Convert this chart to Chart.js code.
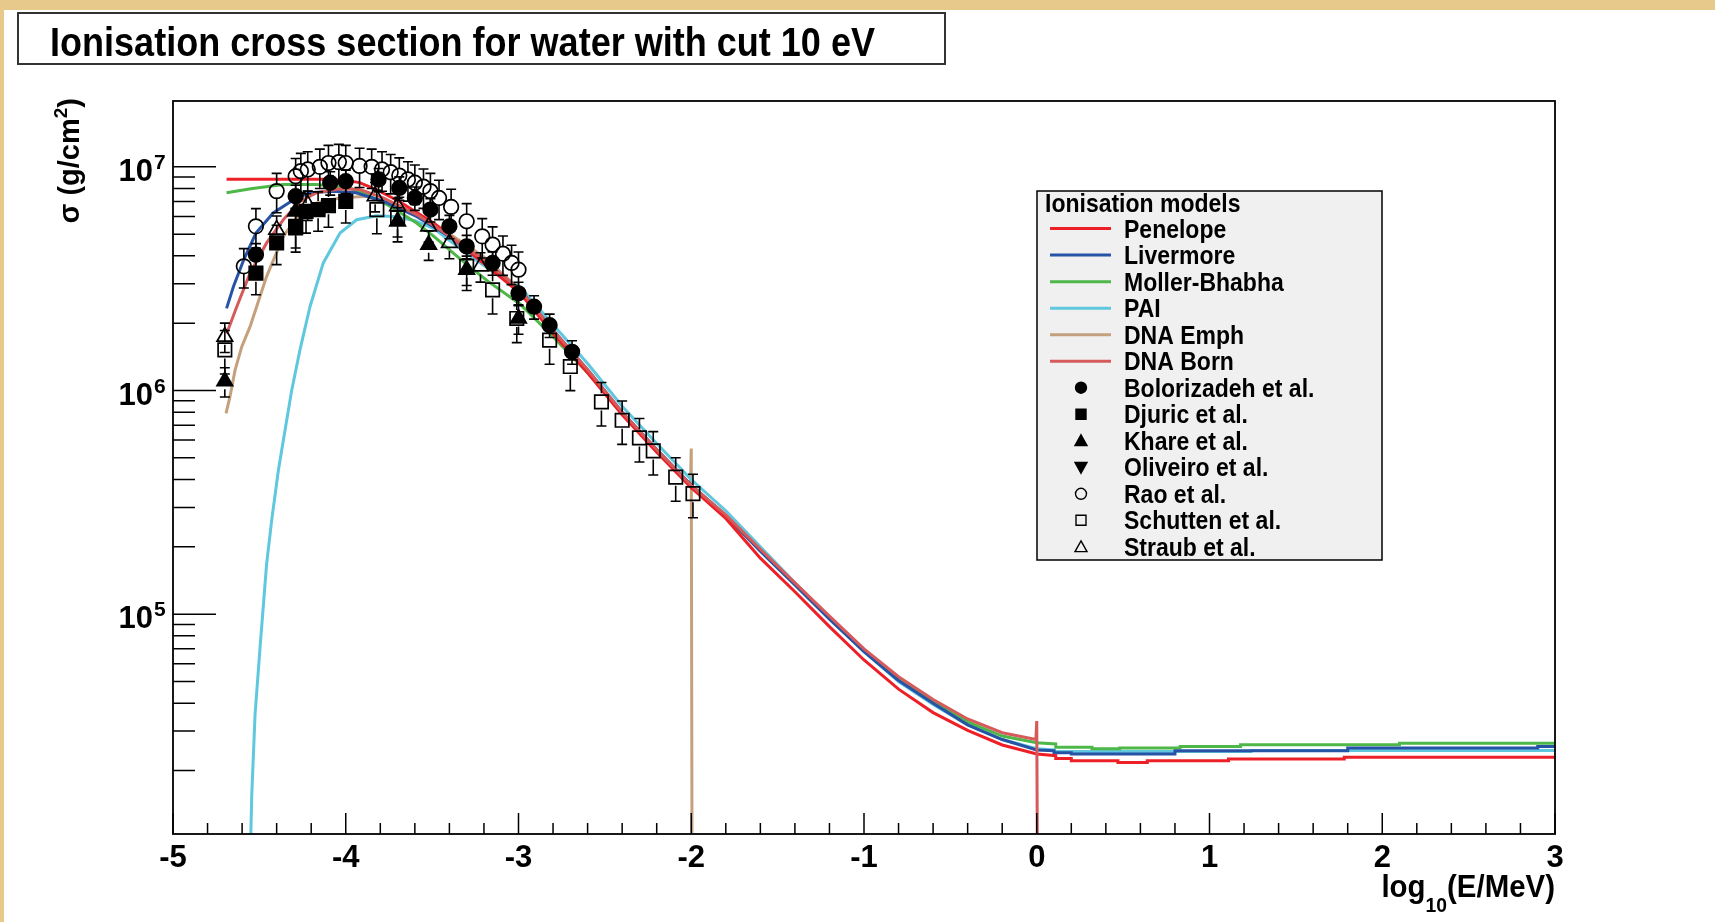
<!DOCTYPE html>
<html>
<head>
<meta charset="utf-8">
<title>Ionisation cross section for water</title>
<script src="https://cdn.jsdelivr.net/npm/chart.js@4.4.1/dist/chart.umd.min.js"></script>
<style>
  html, body { margin: 0; padding: 0; background: #fff; overflow: hidden; }
  canvas { display: block; }
</style>
</head>
<body>
<canvas id="xsecChart" width="1715" height="922"></canvas>
<script>
// x = log10(E/MeV), y = sigma (g/cm2)
const penX = [-4.69, -4.40, -4.10, -4.00, -3.92, -3.82, -3.69, -3.49, -3.30, -3.11, -2.99, -2.80, -2.60, -2.40, -2.20, -2.00, -1.80, -1.60, -1.40, -1.20, -1.00, -0.80, -0.60, -0.40, -0.20, 0.00, 0.11, 0.11, 0.20, 0.20, 0.47, 0.47, 0.64, 0.64, 1.11, 1.11, 1.78, 1.78, 3.00];
const penY = [8.8e6, 8.8e6, 8.8e6, 8.7e6, 8.5e6, 7.9e6, 7.0e6, 5.6e6, 4.27e6, 3.24e6, 2.72e6, 1.80e6, 1.20e6, 7.8e5, 5.3e5, 3.68e5, 2.68e5, 1.78e5, 1.26e5, 8.8e4, 6.24e4, 4.62e4, 3.63e4, 3.02e4, 2.60e4, 2.37e4, 2.33e4, 2.26e4, 2.26e4, 2.21e4, 2.21e4, 2.17e4, 2.17e4, 2.21e4, 2.21e4, 2.25e4, 2.25e4, 2.29e4, 2.29e4];

const livX = [-4.69, -4.65, -4.59, -4.52, -4.42, -4.30, -4.21, -4.07, -3.94, -3.78, -3.59, -3.40, -3.20, -2.99, -2.80, -2.60, -2.40, -2.20, -2.00, -1.80, -1.60, -1.40, -1.20, -1.00, -0.80, -0.60, -0.40, -0.20, 0.00, 0.10, 0.10, 0.20, 0.20, 0.80, 0.80, 1.80, 1.80, 2.90, 2.90, 3.00];
const livY = [2.33e6, 2.92e6, 3.85e6, 5.06e6, 6.22e6, 7.14e6, 7.66e6, 7.78e6, 7.66e6, 7.0e6, 6.0e6, 4.89e6, 3.72e6, 2.82e6, 1.86e6, 1.24e6, 8.0e5, 5.45e5, 3.78e5, 2.76e5, 1.91e5, 1.35e5, 9.5e4, 6.8e4, 5.05e4, 4.0e4, 3.2e4, 2.75e4, 2.47e4, 2.45e4, 2.40e4, 2.40e4, 2.37e4, 2.37e4, 2.45e4, 2.45e4, 2.52e4, 2.52e4, 2.56e4, 2.56e4];

const molX = [-4.69, -4.55, -4.36, -4.17, -3.98, -3.88, -3.76, -3.59, -3.49, -3.34, -3.18, -2.99, -2.80, -2.60, -2.40, -2.20, -2.00, -1.80, -1.60, -1.40, -1.20, -1.00, -0.80, -0.60, -0.40, -0.20, 0.00, 0.11, 0.11, 0.32, 0.32, 0.48, 0.48, 0.83, 0.83, 1.18, 1.18, 2.10, 2.10, 3.00];
const molY = [7.66e6, 7.98e6, 8.34e6, 8.34e6, 8.06e6, 7.52e6, 6.78e6, 5.61e6, 4.89e6, 3.89e6, 3.09e6, 2.43e6, 1.74e6, 1.20e6, 7.9e5, 5.43e5, 3.76e5, 2.75e5, 1.92e5, 1.36e5, 9.6e4, 6.9e4, 5.15e4, 4.1e4, 3.3e4, 2.85e4, 2.66e4, 2.63e4, 2.54e4, 2.54e4, 2.50e4, 2.50e4, 2.52e4, 2.52e4, 2.56e4, 2.56e4, 2.61e4, 2.61e4, 2.65e4, 2.65e4];

const paiX = [-4.553, -4.544, -4.525, -4.496, -4.458, -4.429, -4.390, -4.352, -4.313, -4.265, -4.207, -4.130, -4.033, -3.937, -3.821, -3.726, -3.60, -3.49, -3.30, -3.10, -2.99, -2.80, -2.60, -2.40, -2.20, -2.00, -1.80, -1.60, -1.40, -1.20, -1.00, -0.80, -0.60, -0.40, -0.20, 0.00, 0.10, 0.10, 1.24, 1.24, 3.00];
const paiY = [8e3, 1.56e4, 3.56e4, 7.1e4, 1.68e5, 2.62e5, 4.4e5, 6.6e5, 1.0e6, 1.52e6, 2.37e6, 3.72e6, 5.06e6, 5.8e6, 6.05e6, 6.0e6, 5.75e6, 5.3e6, 4.1e6, 3.2e6, 2.9e6, 1.97e6, 1.32e6, 8.5e5, 5.8e5, 4.0e5, 2.9e5, 2.0e5, 1.38e5, 9.6e4, 6.8e4, 5.0e4, 3.95e4, 3.2e4, 2.75e4, 2.5e4, 2.47e4, 2.43e4, 2.43e4, 2.46e4, 2.46e4];

const emphX = [-4.693, -4.670, -4.641, -4.602, -4.554, -4.458, -4.361, -4.265, -4.168, -4.033, -3.879, -3.686, -3.493, -3.204, -2.991, -2.80, -2.60, -2.40, -2.20, -2.005, -2.000, -1.995];
const emphY = [7.9e5, 9.4e5, 1.23e6, 1.57e6, 1.93e6, 3.24e6, 4.89e6, 6.22e6, 6.9e6, 7.26e6, 7.39e6, 6.67e6, 5.61e6, 3.98e6, 2.82e6, 1.84e6, 1.23e6, 7.94e5, 5.43e5, 3.72e5, 5.5e5, 5e3];

const bornX = [-4.689, -4.631, -4.554, -4.458, -4.361, -4.265, -4.168, -4.033, -3.918, -3.783, -3.589, -3.397, -3.204, -2.991, -2.80, -2.60, -2.40, -2.20, -2.00, -1.80, -1.60, -1.40, -1.20, -1.00, -0.80, -0.60, -0.40, -0.20, -0.005, 0.000, 0.005];
const bornY = [1.80e6, 2.37e6, 3.35e6, 4.57e6, 5.81e6, 7.0e6, 7.66e6, 7.98e6, 7.92e6, 7.26e6, 6.12e6, 4.89e6, 3.85e6, 2.82e6, 1.86e6, 1.24e6, 8.0e5, 5.45e5, 3.76e5, 2.78e5, 1.95e5, 1.38e5, 9.8e4, 7.0e4, 5.25e4, 4.15e4, 3.4e4, 2.95e4, 2.75e4, 3.33e4, 5e3];

// experimental points
const bolX = [-4.52, -4.29, -4.09, -4.00, -3.81, -3.69, -3.60, -3.51, -3.40, -3.30, -3.15, -3.00, -2.91, -2.82, -2.69];
const bolY = [4.05e6, 7.39e6, 8.49e6, 8.63e6, 8.78e6, 8.05e6, 7.26e6, 6.44e6, 5.42e6, 4.41e6, 3.72e6, 2.72e6, 2.37e6, 1.96e6, 1.49e6];
const djuX = [-4.52, -4.40, -4.29, -4.23, -4.16, -4.10, -4.00];
const djuY = [3.35e6, 4.57e6, 5.42e6, 6.32e6, 6.44e6, 6.71e6, 7.01e6];
const khaX = [-4.70, -4.29, -3.70, -3.52, -3.30, -3.00];
const khaY = [1.1e6, 6.32e6, 5.71e6, 4.49e6, 3.47e6, 2.1e6];
const oliX = [];
const oliY = [];
const raoX = [-4.59, -4.52, -4.40, -4.29, -4.26, -4.22, -4.15, -4.10, -4.04, -4.00, -3.92, -3.85, -3.79, -3.74, -3.69, -3.64, -3.60, -3.55, -3.51, -3.46, -3.39, -3.30, -3.21, -3.15, -3.09, -3.04, -3.00];
const raoY = [3.59e6, 5.42e6, 7.79e6, 9.08e6, 9.57e6, 9.73e6, 1.0e7, 1.04e7, 1.05e7, 1.04e7, 1.01e7, 1.0e7, 9.73e6, 9.46e6, 9.14e6, 8.78e6, 8.49e6, 8.15e6, 7.79e6, 7.26e6, 6.62e6, 5.71e6, 4.89e6, 4.49e6, 4.09e6, 3.72e6, 3.47e6];
const schX = [-4.70, -4.29, -3.82, -3.70, -3.30, -3.15, -3.01, -2.82, -2.70, -2.52, -2.40, -2.30, -2.22, -2.09, -1.99];
const schY = [1.52e6, 5.33e6, 6.44e6, 5.92e6, 3.59e6, 2.82e6, 2.1e6, 1.68e6, 1.28e6, 8.9e5, 7.36e5, 6.14e5, 5.37e5, 4.1e5, 3.46e5];
const strX = [-4.70, -4.40, -4.22, -3.83, -3.70, -3.52, -3.40, -3.22];
const strY = [1.74e6, 5.24e6, 6.78e6, 7.4e6, 6.67e6, 5.42e6, 4.57e6, 3.59e6];

// y axis labels (decades) and axis range
const yTickValues = [1e5, 1e6, 1e7];
const yTickExps = ['5', '6', '7'];
const xMin = -5, xMax = 3;
const yMin = 1.04e4, yMax = 1.97e7;

const FONT = '"Liberation Sans", Arial, Helvetica, sans-serif';

function pts(xs, ys) {
  return xs.map((x, i) => ({ x: x, y: ys[i] }));
}

function lineSet(label, xs, ys, color, order) {
  return {
    label: label,
    data: pts(xs, ys),
    showLine: true,
    borderColor: color,
    backgroundColor: color,
    borderWidth: 3,
    pointRadius: 0,
    pointHoverRadius: 0,
    tension: 0,
    order: order,
  };
}

function markSet(label, xs, ys, style, filled, err, rot) {
  const r = style === 'rect' ? 9.5 : style === 'circle' ? 7.3 : 9;
  return {
    label: label,
    data: pts(xs, ys),
    showLine: false,
    pointStyle: style,
    rotation: rot || 0,
    pointRadius: r,
    pointHoverRadius: r,
    pointBackgroundColor: filled ? '#000' : 'rgba(0,0,0,0)',
    pointBorderColor: '#000',
    pointBorderWidth: 1.7,
    borderColor: '#000',
    backgroundColor: filled ? '#000' : 'rgba(0,0,0,0)',
    order: 0,
    errFrac: err,
    filled: filled,
  };
}

// text squeezed a little, like the ROOT fonts
function say(ctx, s, x, y, font, align, squeeze) {
  ctx.font = font;
  ctx.textAlign = align || 'left';
  const w = ctx.measureText(s).width * (squeeze || 1);
  ctx.fillText(s, x, y, w);
  return w;
}

function drawMarker(ctx, style, filled, rot, x, y, r) {
  ctx.beginPath();
  if (style === 'circle') {
    ctx.arc(x, y, r, 0, Math.PI * 2);
  } else if (style === 'rect') {
    ctx.rect(x - r, y - r, 2 * r, 2 * r);
  } else {
    const s = rot ? -1 : 1;
    ctx.moveTo(x, y - s * r);
    ctx.lineTo(x + r, y + s * r * 0.8);
    ctx.lineTo(x - r, y + s * r * 0.8);
    ctx.closePath();
  }
  if (filled) { ctx.fillStyle = '#000'; ctx.fill(); }
  ctx.lineWidth = 1.4;
  ctx.strokeStyle = '#000';
  ctx.stroke();
}

const errorBars = {
  id: 'errorBars',
  afterDatasetsDraw(chart) {
    const ctx = chart.ctx;
    const xs = chart.scales.x, ys = chart.scales.y, a = chart.chartArea;
    ctx.save();
    ctx.beginPath();
    ctx.rect(a.left, a.top, a.right - a.left, a.bottom - a.top);
    ctx.clip();
    ctx.strokeStyle = '#000';
    ctx.lineWidth = 1.6;
    chart.data.datasets.forEach(ds => {
      if (!ds.errFrac) return;
      const gap = ds.pointRadius * 0.9;
      ds.data.forEach(p => {
        const px = xs.getPixelForValue(p.x);
        const py = ys.getPixelForValue(p.y);
        const top = ys.getPixelForValue(p.y * (1 + ds.errFrac));
        const bot = ys.getPixelForValue(p.y * (1 - ds.errFrac));
        ctx.beginPath();
        if (py - gap > top) { ctx.moveTo(px, top); ctx.lineTo(px, py - gap); }
        if (py + gap < bot) { ctx.moveTo(px, py + gap); ctx.lineTo(px, bot); }
        ctx.moveTo(px - 5, top); ctx.lineTo(px + 5, top);
        ctx.moveTo(px - 5, bot); ctx.lineTo(px + 5, bot);
        ctx.stroke();
      });
    });
    ctx.restore();
  },
};

const rootFrame = {
  id: 'rootFrame',
  beforeDraw(chart) {
    const ctx = chart.ctx;
    ctx.save();
    ctx.fillStyle = '#fff';
    ctx.fillRect(0, 0, chart.width, chart.height);
    // slide background strips
    ctx.fillStyle = '#e8c98c';
    ctx.fillRect(0, 0, chart.width, 10);
    ctx.fillRect(0, 0, 4, chart.height);
    ctx.restore();
  },
  afterDraw(chart) {
    const ctx = chart.ctx;
    const xs = chart.scales.x, ys = chart.scales.y, a = chart.chartArea;
    ctx.save();
    ctx.fillStyle = '#000';
    ctx.strokeStyle = '#000';
    ctx.textBaseline = 'alphabetic';

    // frame
    ctx.lineWidth = 1.8;
    ctx.strokeRect(a.left, a.top, a.right - a.left, a.bottom - a.top);

    // ticks drawn inwards
    ctx.lineWidth = 1.5;
    ctx.beginPath();
    for (let k = 0; k <= 40; k++) {
      const px = xs.getPixelForValue(xMin + k * 0.2);
      const len = k % 5 === 0 ? 21 : 11;
      ctx.moveTo(px, a.bottom);
      ctx.lineTo(px, a.bottom - len);
    }
    for (let d = 4; d <= 7; d++) {
      for (let m = 1; m <= 9; m++) {
        const v = m * Math.pow(10, d);
        if (v < yMin || v > yMax) continue;
        const py = ys.getPixelForValue(v);
        ctx.moveTo(a.left, py);
        ctx.lineTo(a.left + (m === 1 ? 43 : 22), py);
      }
    }
    ctx.stroke();

    // y labels 10^n
    yTickValues.forEach((v, i) => {
      const py = ys.getPixelForValue(v);
      say(ctx, '10', a.left - 20, py + 14, 'bold 31px ' + FONT, 'right');
      say(ctx, yTickExps[i], a.left - 19, py + 2, 'bold 21px ' + FONT, 'left');
    });

    // x title: log10(E/MeV)
    ctx.font = 'bold 32px ' + FONT;
    const w1 = ctx.measureText('log').width * 0.92;
    const w3 = ctx.measureText('(E/MeV)').width * 0.92;
    ctx.font = 'bold 21px ' + FONT;
    const w2 = ctx.measureText('10').width * 0.92;
    let tx = a.right - (w1 + w2 + w3);
    say(ctx, 'log', tx, 897, 'bold 32px ' + FONT, 'left', 0.92);
    say(ctx, '10', tx + w1, 912, 'bold 21px ' + FONT, 'left', 0.92);
    say(ctx, '(E/MeV)', tx + w1 + w2, 897, 'bold 32px ' + FONT, 'left', 0.92);

    // y title: sigma (g/cm2), rotated, flush with the top
    ctx.save();
    ctx.translate(68, a.top - 3);
    ctx.rotate(-Math.PI / 2);
    ctx.font = 'bold 29px ' + FONT;
    const p1 = ctx.measureText('σ (g/cm').width;
    const p3 = ctx.measureText(')').width;
    ctx.font = 'bold 19px ' + FONT;
    const p2 = ctx.measureText('2').width;
    let u = -(p1 + p2 + p3);
    say(ctx, 'σ (g/cm', u, 11, 'bold 29px ' + FONT, 'left');
    say(ctx, '2', u + p1, -1, 'bold 19px ' + FONT, 'left');
    say(ctx, ')', u + p1 + p2, 11, 'bold 29px ' + FONT, 'left');
    ctx.restore();

    // title box
    ctx.fillStyle = '#fff';
    ctx.fillRect(18, 13, 927, 51);
    ctx.lineWidth = 2;
    ctx.strokeStyle = '#333';
    ctx.strokeRect(18, 13, 927, 51);
    ctx.fillStyle = '#000';
    ctx.font = 'bold 40px ' + FONT;
    ctx.textAlign = 'left';
    ctx.fillText('Ionisation cross section for water with cut 10 eV', 50, 56, 825);

    // legend
    const lx = 1037, ly = 191, lw = 345, lh = 369;
    ctx.fillStyle = '#f0f0f0';
    ctx.fillRect(lx, ly, lw, lh);
    ctx.lineWidth = 1.5;
    ctx.strokeStyle = '#000';
    ctx.strokeRect(lx, ly, lw, lh);
    ctx.fillStyle = '#000';
    say(ctx, 'Ionisation models', lx + 8, ly + 21, 'bold 25px ' + FONT, 'left', 0.92);
    chart.data.datasets.forEach((ds, i) => {
      const cy = ly + 37.6 + i * 26.52;
      if (ds.showLine) {
        ctx.strokeStyle = ds.borderColor;
        ctx.lineWidth = 3;
        ctx.beginPath();
        ctx.moveTo(lx + 13, cy);
        ctx.lineTo(lx + 74, cy);
        ctx.stroke();
      } else {
        const r = ds.pointStyle === 'circle' ? 5.5 : ds.pointStyle === 'rect' ? 5 : 6;
        drawMarker(ctx, ds.pointStyle, ds.filled, ds.rotation, lx + 44, cy, r);
      }
      ctx.fillStyle = '#000';
      say(ctx, ds.label, lx + 87, cy + 9, 'bold 25px ' + FONT, 'left', 0.92);
    });
    ctx.restore();
  },
};

const datasets = [
  lineSet('Penelope', penX, penY, '#ee2027', 2),
  lineSet('Livermore', livX, livY, '#2653a6', 3),
  lineSet('Moller-Bhabha', molX, molY, '#4db748', 4),
  lineSet('PAI', paiX, paiY, '#5fc7de', 5),
  lineSet('DNA Emph', emphX, emphY, '#c4a07d', 6),
  lineSet('DNA Born', bornX, bornY, '#d65a5a', 1),
  markSet('Bolorizadeh et al.', bolX, bolY, 'circle', true, 0.12),
  markSet('Djuric et al.', djuX, djuY, 'rect', true, 0.2),
  markSet('Khare et al.', khaX, khaY, 'triangle', true, 0.15),
  markSet('Oliveiro et al.', oliX, oliY, 'triangle', true, 0.15, 180),
  markSet('Rao et al.', raoX, raoY, 'circle', false, 0.2),
  markSet('Schutten et al.', schX, schY, 'rect', false, 0.22),
  markSet('Straub et al.', strX, strY, 'triangle', false, 0.15),
];

new Chart(document.getElementById('xsecChart').getContext('2d'), {
  type: 'scatter',
  data: { datasets: datasets },
  options: {
    responsive: false,
    animation: false,
    devicePixelRatio: 1,
    layout: { padding: { top: 101, right: 160, left: 0, bottom: 0 } },
    scales: {
      x: {
        type: 'linear',
        min: xMin,
        max: xMax,
        grid: { display: false },
        border: { display: false },
        ticks: {
          stepSize: 1,
          autoSkip: false,
          maxRotation: 0,
          padding: -2,
          color: '#000',
          font: { family: FONT, size: 31, weight: 'bold' },
        },
        afterFit(scale) { scale.height = 88; },
      },
      y: {
        type: 'logarithmic',
        min: yMin,
        max: yMax,
        grid: { display: false },
        border: { display: false },
        ticks: { display: false },
        afterFit(scale) { scale.width = 173; },
      },
    },
    plugins: {
      legend: { display: false },
      tooltip: { enabled: false },
      title: { display: false },
    },
  },
  plugins: [rootFrame, errorBars],
});
</script>
</body>
</html>
